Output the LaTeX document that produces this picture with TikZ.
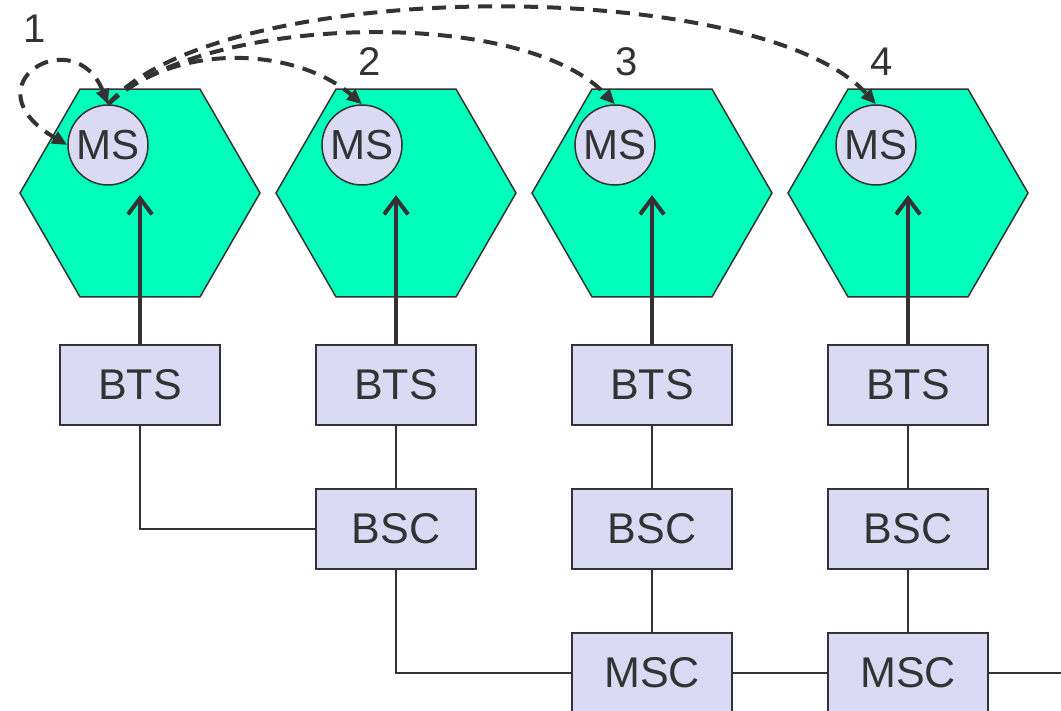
\documentclass[tikz,border=0pt]{standalone}
\usepackage{fontspec}
\setmainfont{Liberation Sans}
\usetikzlibrary{shapes.geometric, arrows.meta, positioning}
\definecolor{cellgreen}{RGB}{0,255,187}
\definecolor{boxblue}{RGB}{218,218,244}
\definecolor{inkgray}{RGB}{51,51,51}

\begin{document}
\begin{tikzpicture}[x=1pt, y=-1pt]
        \tikzstyle{cell} = [regular polygon, regular polygon sides=6, draw=inkgray, fill=cellgreen,
            line width=1.5pt, minimum size=240pt, inner sep=0pt]
        \tikzstyle{ms} = [circle, draw=inkgray, fill=boxblue, line width=1.5pt, minimum size=80pt,
            inner sep=0pt, text=inkgray, font=\fontsize{42}{44}\selectfont]
        \tikzstyle{block} = [rectangle, draw=inkgray, fill=boxblue, line width=2pt, outer sep=0pt,
            minimum width=160pt, minimum height=80pt, text=inkgray, font=\fontsize{43}{46}\selectfont]
        \tikzstyle{link} = [draw=inkgray, line width=2pt]
        \tikzstyle{uplink} = [draw=inkgray, line width=4pt, -{Straight Barb[length=16pt,width=24pt]}]
        \tikzstyle{hop} = [draw=inkgray, line width=4pt, dash pattern=on 14pt off 9pt,
            >={Triangle[length=15pt,width=13pt]}, ->]
        \tikzstyle{num} = [text=inkgray, font=\fontsize{40}{42}\selectfont]

        \useasboundingbox (0,0) rectangle (1061,711);

        \node [cell] (cell1) at (140,193) {};
        \node [cell] (cell2) at (396,193) {};
        \node [cell] (cell3) at (652,193) {};
        \node [cell] (cell4) at (908,193) {};

        \node [block] (bts1) at (140,385) {BTS};
        \node [block] (bts2) at (396,385) {BTS};
        \node [block] (bts3) at (652,385) {BTS};
        \node [block] (bts4) at (908,385) {BTS};

        \node [block, below=64pt of bts2] (bsc2) {BSC};
        \node [block, below=64pt of bts3] (bsc3) {BSC};
        \node [block, below=64pt of bts4] (bsc4) {BSC};

        \node [block, below=64pt of bsc3] (msc1) {MSC};
        \node [block, below=64pt of bsc4] (msc2) {MSC};

        \coordinate (tip1) at (140,195);
        \coordinate (tip2) at (396,195);
        \coordinate (tip3) at (652,195);
        \coordinate (tip4) at (908,195);
        \coordinate (trunk) at (1061,673);

        \path [uplink] (bts1) -- (tip1);
        \path [uplink] (bts2) -- (tip2);
        \path [uplink] (bts3) -- (tip3);
        \path [uplink] (bts4) -- (tip4);

        \node [ms] (ms1) at (108,145) {MS};
        \node [ms] (ms2) at (362,145) {MS};
        \node [ms] (ms3) at (615,145) {MS};
        \node [ms] (ms4) at (876,145) {MS};

        \path [link] (bts1) |- (bsc2);
        \path [link] (bts2) -- (bsc2);
        \path [link] (bsc2) |- (msc1);
        \path [link] (bts3) -- (bsc3);
        \path [link] (bsc3) -- (msc1);
        \path [link] (bts4) -- (bsc4);
        \path [link] (bsc4) -- (msc2);
        \path [link] (msc1) -- (msc2);
        \path [link] (msc2) -- (trunk);

        \path [hop, <->] (ms1.north) .. controls (75,20) and (-35,85) .. (ms1.west);
        \path [hop] (ms1.north) .. controls (180,38) and (300,50) .. (ms2.north);
        \path [hop] (ms1.north) .. controls (200,15) and (520,5) .. (ms3.north);
        \path [hop] (ms1.north) .. controls (220,-25) and (760,-24) .. (ms4.north);

        \node [num] (hop1) at (35,29) {1};
        \node [num] (hop2) at (370,62) {2};
        \node [num] (hop3) at (627,62) {3};
        \node [num] (hop4) at (882,62) {4};
    \end{tikzpicture}
\end{document}
